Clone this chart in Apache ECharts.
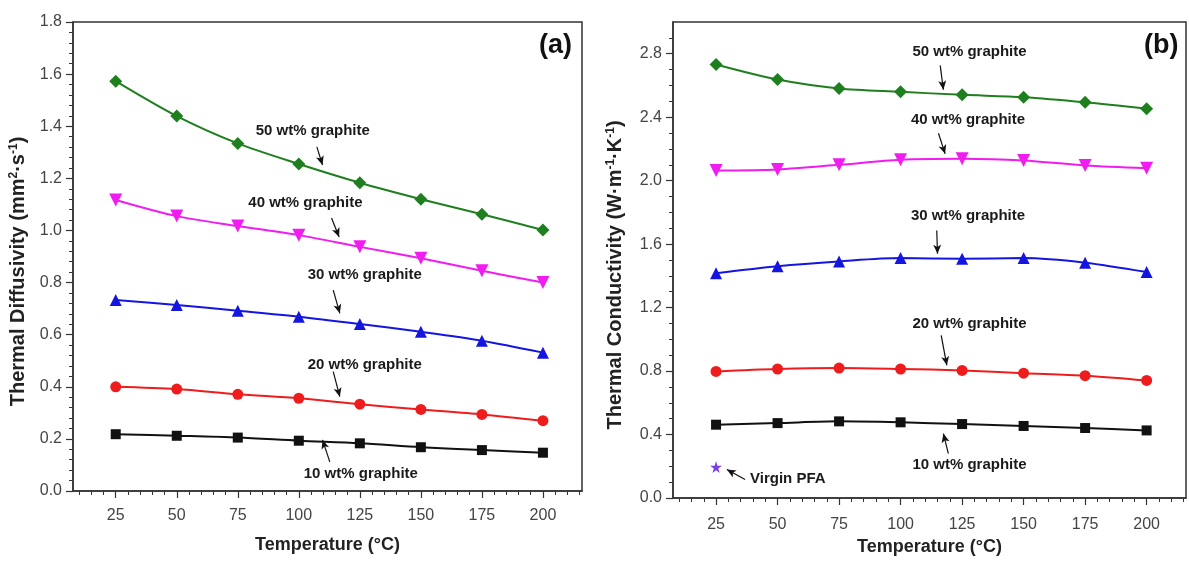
<!DOCTYPE html>
<html>
<head>
<meta charset="utf-8">
<script src="https://cdn.jsdelivr.net/npm/echarts@6/dist/echarts.min.js"></script>
<style>
html, body { margin: 0; padding: 0; background: #fff; }
#chart { width: 1189px; height: 562px; }
</style>
</head>
<body>
<div id="chart"></div>
<script>
// temperatures (oC)
var temps = [25, 50, 75, 100, 125, 150, 175, 200];

// (a) thermal diffusivity, mm2/s
var diff10 = [0.218, 0.212, 0.205, 0.193, 0.183, 0.168, 0.157, 0.147];
var diff20 = [0.400, 0.391, 0.371, 0.356, 0.333, 0.313, 0.294, 0.270];
var diff30 = [0.733, 0.714, 0.692, 0.669, 0.641, 0.611, 0.577, 0.531];
var diff40 = [1.117, 1.055, 1.017, 0.982, 0.937, 0.893, 0.845, 0.800];
var diff50 = [1.573, 1.439, 1.334, 1.255, 1.183, 1.120, 1.062, 1.002];

// (b) thermal conductivity, W/(m.K)
var cond10 = [0.462, 0.472, 0.483, 0.477, 0.466, 0.454, 0.441, 0.426];
var cond20 = [0.798, 0.813, 0.819, 0.813, 0.804, 0.787, 0.771, 0.741];
var cond30 = [1.417, 1.461, 1.491, 1.512, 1.508, 1.512, 1.483, 1.424];
var cond40 = [2.064, 2.071, 2.100, 2.132, 2.138, 2.127, 2.096, 2.079];
var cond50 = [2.732, 2.637, 2.581, 2.560, 2.541, 2.526, 2.494, 2.453];
var virginPFA = [[25, 0.195]];

// axis ticks
var xTicks = [25, 50, 75, 100, 125, 150, 175, 200];
var xMinorTicks = [10, 15, 20, 30, 35, 40, 45, 55, 60, 65, 70, 80, 85, 90, 95, 105, 110, 115, 120,
  130, 135, 140, 145, 155, 160, 165, 170, 180, 185, 190, 195, 205, 210, 215];
var yTicksA = [0, 0.2, 0.4, 0.6, 0.8, 1.0, 1.2, 1.4, 1.6, 1.8];
var yTicksB = [0, 0.4, 0.8, 1.2, 1.6, 2.0, 2.4, 2.8];

// annotation text [x, y, text] and arrows [x1, y1, x2, y2] in data units
var notesA = [
  [105.7, 1.381, '50 wt% graphite'],
  [102.7, 1.105, '40 wt% graphite'],
  [127.0, 0.829, '30 wt% graphite'],
  [127.0, 0.484, '20 wt% graphite'],
  [125.4, 0.065, '10 wt% graphite']
];
var arrowsA = [
  [107.4, 1.321, 109.7, 1.251],
  [113.4, 1.048, 116.5, 0.975],
  [114.1, 0.771, 116.8, 0.682],
  [114.1, 0.458, 116.8, 0.362],
  [112.7, 0.112, 109.7, 0.196]
];
var notesB = [
  [128.0, 2.809, '50 wt% graphite'],
  [127.4, 2.384, '40 wt% graphite'],
  [127.4, 1.781, '30 wt% graphite'],
  [128.0, 1.099, '20 wt% graphite'],
  [128.0, 0.206, '10 wt% graphite']
];
var arrowsB = [
  [116.1, 2.727, 117.4, 2.573],
  [115.4, 2.299, 118.1, 2.169],
  [114.7, 1.686, 115.0, 1.540],
  [116.5, 1.025, 118.8, 0.836],
  [119.4, 0.280, 117.4, 0.406],
  [36.8, 0.116, 29.4, 0.179]
];
var pfaNote = [38.8, 0.122, 'Virgin PFA'];

var chart = echarts.init(document.getElementById('chart'));

var axisColor = '#333';
var labelFont = { fontFamily: 'Liberation Sans', fontSize: 16, color: '#444' };
var nameFont = { fontFamily: 'Liberation Sans', fontWeight: 'bold', color: '#222' };
var supStyle = { fontFamily: 'Liberation Sans', fontWeight: 'bold', fontSize: 12, color: '#222', verticalAlign: 'top' };

function xAxisPair(grid, nameGap, margin) {
  return [{
    type: 'value', gridIndex: grid, min: 7.5, max: 216,
    name: 'Temperature (°C)', nameLocation: 'middle', nameGap: nameGap,
    nameTextStyle: Object.assign({ fontSize: 18 }, nameFont),
    axisLine: { lineStyle: { color: axisColor, width: 1.5 } },
    axisTick: { customValues: xTicks, length: 7, lineStyle: { color: axisColor, width: 1.2 } },
    axisLabel: Object.assign({ customValues: xTicks, margin: margin }, labelFont),
    splitLine: { show: false }
  }, {
    type: 'value', gridIndex: grid, min: 7.5, max: 216, position: 'bottom', offset: 0,
    axisLine: { show: false },
    axisTick: { customValues: xMinorTicks, length: 4, lineStyle: { color: axisColor, width: 1 } },
    axisLabel: { show: false },
    splitLine: { show: false }
  }];
}

function minorOf(ticks, parts) {
  var out = [];
  for (var i = 0; i < ticks.length - 1; i++) {
    var step = (ticks[i + 1] - ticks[i]) / parts;
    for (var k = 1; k < parts; k++) out.push(ticks[i] + step * k);
  }
  return out;
}

function yAxisPair(grid, max, ticks, minor, name, nameSize, nameGap) {
  return [{
    type: 'value', gridIndex: grid, min: 0, max: max,
    name: name, nameLocation: 'middle', nameGap: nameGap,
    nameTextStyle: Object.assign({ fontSize: nameSize, padding: [0, 30, 0, 0], rich: { sup: supStyle } }, nameFont),
    axisLine: { show: true, lineStyle: { color: axisColor, width: 1.5 } },
    axisTick: { show: true, customValues: ticks, length: 7, lineStyle: { color: axisColor, width: 1.2 } },
    axisLabel: Object.assign({ customValues: ticks, margin: 11, formatter: function (v) { return v.toFixed(1); } }, labelFont),
    splitLine: { show: false }
  }, {
    type: 'value', gridIndex: grid, min: 0, max: max, position: 'left', offset: 0,
    axisLine: { show: false },
    axisTick: { show: true, customValues: minor, length: 4, lineStyle: { color: axisColor, width: 1 } },
    axisLabel: { show: false },
    splitLine: { show: false }
  }];
}

function curve(name, grid, values, symbol, color, size, rotate) {
  return {
    type: 'line', name: name, xAxisIndex: grid * 2, yAxisIndex: grid * 2,
    data: temps.map(function (t, i) { return [t, values[i]]; }),
    smooth: 0.3, symbol: symbol, symbolSize: size, symbolRotate: rotate || 0,
    lineStyle: { color: color, width: 2 },
    itemStyle: { color: color },
    z: 3
  };
}

function notesSeries(grid, notes, arrows) {
  return {
    type: 'scatter', xAxisIndex: grid * 2, yAxisIndex: grid * 2,
    symbolSize: 0, silent: true,
    itemStyle: { opacity: 1 },
    data: notes.map(function (n) {
      return { value: [n[0], n[1]], name: n[2], label: { align: n[3] || 'center' } };
    }),
    label: {
      show: true, position: [0, 0], verticalAlign: 'middle', formatter: '{b}', opacity: 1,
      fontFamily: 'Liberation Sans', fontWeight: 'bold', fontSize: 15, color: '#1a1a1a'
    },
    markLine: {
      silent: true, symbol: ['none', 'arrow'], symbolSize: [6, 9],
      label: { show: false },
      lineStyle: { color: '#111', width: 1.2, type: 'solid' },
      data: arrows.map(function (a) {
        return [{ coord: [a[0], a[1]] }, { coord: [a[2], a[3]] }];
      })
    }
  };
}

var starPath = 'path://M50,0 L61,35 L98,35 L68,57 L79,91 L50,70 L21,91 L32,57 L2,35 L39,35 Z';
var panelTag = { fontFamily: 'Liberation Sans', fontSize: 27, fontWeight: 'bold', color: '#111' };

chart.setOption({
  animation: false,
  backgroundColor: '#fff',
  title: [
    { text: '(a)', left: 539, top: 32, padding: 0, textStyle: panelTag },
    { text: '(b)', left: 1144, top: 32, padding: 0, textStyle: panelTag }
  ],
  grid: [
    { left: 73, top: 22, width: 509, height: 469, show: true, borderColor: axisColor, borderWidth: 1.5 },
    { left: 673, top: 22, width: 513, height: 476, show: true, borderColor: axisColor, borderWidth: 1.5 }
  ],
  xAxis: xAxisPair(0, 45, 17).concat(xAxisPair(1, 39, 19)),
  yAxis: yAxisPair(0, 1.8, yTicksA, minorOf(yTicksA, 5), 'Thermal Diffusivity (mm{sup|2}·s{sup|-1})', 20, 45)
    .concat(yAxisPair(1, 3.0, yTicksB, minorOf(yTicksB, 4).concat([2.9]), 'Thermal Conductivity (W·m{sup|-1}·K{sup|-1})', 20, 48)),
  series: [
    curve('10 wt% graphite', 0, diff10, 'rect', '#111', 10),
    curve('20 wt% graphite', 0, diff20, 'circle', '#ee1c1c', 11),
    curve('30 wt% graphite', 0, diff30, 'triangle', '#1515e0', 12),
    curve('40 wt% graphite', 0, diff40, 'triangle', '#f01cf0', 13, 180),
    curve('50 wt% graphite', 0, diff50, 'diamond', '#1f7f1f', 13),
    notesSeries(0, notesA, arrowsA),
    curve('10 wt% graphite', 1, cond10, 'rect', '#111', 10),
    curve('20 wt% graphite', 1, cond20, 'circle', '#ee1c1c', 11),
    curve('30 wt% graphite', 1, cond30, 'triangle', '#1515e0', 12),
    curve('40 wt% graphite', 1, cond40, 'triangle', '#f01cf0', 13, 180),
    curve('50 wt% graphite', 1, cond50, 'diamond', '#1f7f1f', 13),
    {
      type: 'scatter', name: 'Virgin PFA', xAxisIndex: 2, yAxisIndex: 2,
      data: virginPFA, symbol: starPath, symbolSize: 12,
      itemStyle: { color: '#7b3fe4', opacity: 1 }
    },
    notesSeries(1, notesB.concat([[pfaNote[0], pfaNote[1], pfaNote[2], 'left']]), arrowsB)
  ]
});
</script>
</body>
</html>
